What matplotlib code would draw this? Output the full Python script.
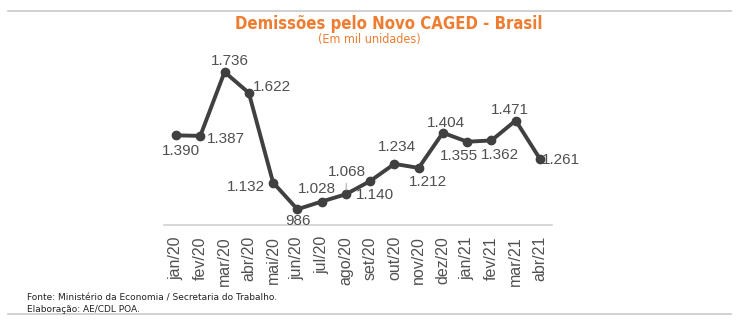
import matplotlib.pyplot as plt
from matplotlib.lines import Line2D

# dados (em mil unidades)
meses = ["jan/20", "fev/20", "mar/20", "abr/20", "mai/20", "jun/20", "jul/20", "ago/20",
         "set/20", "out/20", "nov/20", "dez/20", "jan/21", "fev/21", "mar/21", "abr/21"]
demissoes = [1390, 1387, 1736, 1622, 1132, 986, 1028, 1068,
             1140, 1234, 1212, 1404, 1355, 1362, 1471, 1261]
rotulos = ["1.390", "1.387", "1.736", "1.622", "1.132", "986", "1.028", "1.068",
           "1.140", "1.234", "1.212", "1.404", "1.355", "1.362", "1.471", "1.261"]

# deslocamento dos rotulos (px) e alinhamento
desloc = [(5, -16, "center"), (7, -3, "left"), (5, 11, "center"), (4, 6, "left"),
          (-8, -4, "right"), (1, -12, "center"), (-5, 13, "center"), (1, 22, "center"),
          (5, -14, "center"), (3, 17, "center"), (9, -14, "center"), (3, 10, "center"),
          (-8, -14, "center"), (8, -15, "center"), (-6, 11, "center"), (2, -1, "left")]

cinza = "#505050"
laranja = "#EE7D31"

fig = plt.figure(figsize=(7.39, 3.27), dpi=100)
ax = fig.add_axes([163.9 / 739, 1 - 225 / 327, (552.1 - 163.9) / 739, (225 - 42) / 327])

x = list(range(len(meses)))
ax.plot(x, demissoes, color="#404040", lw=2.8, marker="o", ms=6, zorder=3)

for i, (v, t, (dx, dy, ha)) in enumerate(zip(demissoes, rotulos, desloc)):
    kw = {}
    if meses[i] == "ago/20":
        kw["arrowprops"] = dict(arrowstyle="-", color="#b0b0b0", lw=0.8, shrinkA=1, shrinkB=3)
    ax.annotate(t, (i, v), xytext=(dx, dy), textcoords="offset pixels",
                ha=ha, va="center", fontsize=11, color=cinza,
                fontfamily="Liberation Sans", **kw)

ax.set_xlim(-0.5, 15.5)
ax.set_ylim(900, 1900)
ax.set_xticks(x)
ax.set_xticklabels(meses, rotation=90, fontsize=11.5, color=cinza, fontfamily="Liberation Sans")
ax.tick_params(axis="x", length=0, pad=8)
ax.set_yticks([])
for s in ["top", "right", "left"]:
    ax.spines[s].set_visible(False)
ax.spines["bottom"].set_color("#d0d0d0")
ax.spines["bottom"].set_linewidth(1.2)

# linhas de moldura
fig.add_artist(Line2D([8 / 739, 731 / 739], [1 - 11 / 327, 1 - 11 / 327],
                      color="#c8c8c8", lw=1.2))
fig.add_artist(Line2D([8 / 739, 731 / 739], [1 - 314 / 327, 1 - 314 / 327],
                      color="#c8c8c8", lw=1.2))

fig.text(389 / 739, 1 - 24 / 327, "Demissões pelo Novo CAGED - Brasil", ha="center", va="center",
         fontsize=12, fontweight="bold", color=laranja, fontfamily="DejaVu Sans",
         fontstretch="condensed")
fig.text(369 / 739, 1 - 40 / 327, "(Em mil unidades)", ha="center", va="center",
         fontsize=9, color=laranja, fontfamily="DejaVu Sans", fontstretch="condensed")

fig.text(27 / 739, 1 - 298 / 327, "Fonte: Ministério da Economia / Secretaria do Trabalho.",
         ha="left", va="center", fontsize=6.5, color="#222222")
fig.text(27 / 739, 1 - 309 / 327, "Elaboração: AE/CDL POA.",
         ha="left", va="center", fontsize=6.5, color="#222222")

fig.savefig("out.png", dpi=100)
